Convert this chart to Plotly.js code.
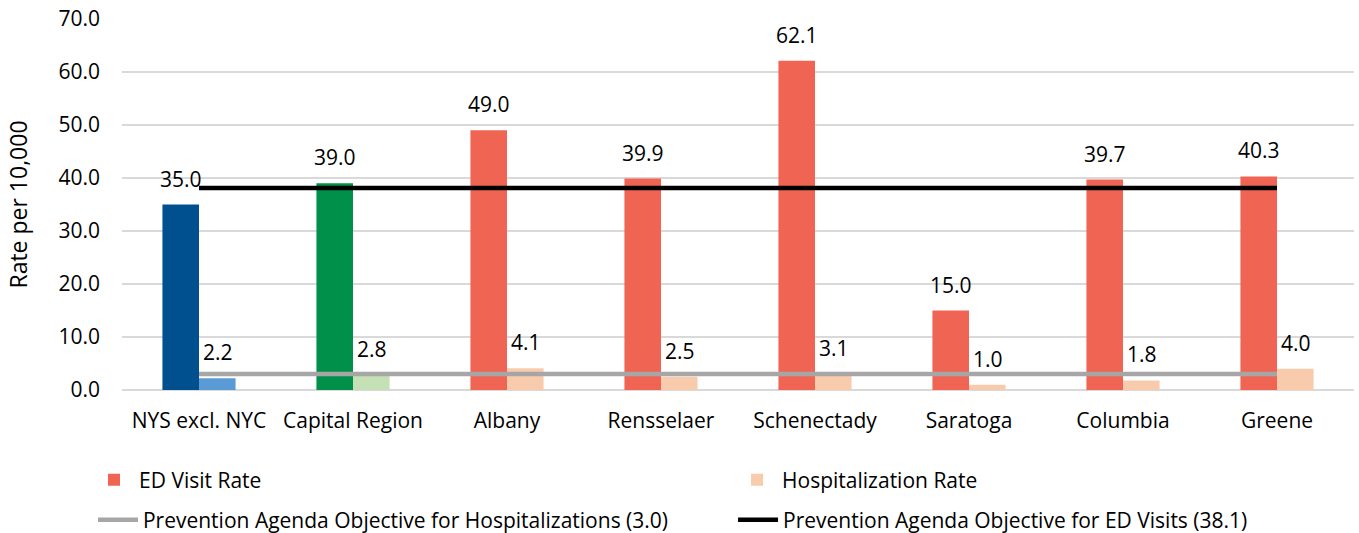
<!DOCTYPE html>
<html>
<head>
<meta charset="utf-8">
<script src="https://cdn.plot.ly/plotly-3.0.1.min.js"></script>
<style>html,body{margin:0;padding:0;background:#fff;}#chart{width:1359px;height:533px;}</style>
</head>
<body>
<div id="chart"></div>
<script>
// ---- data ----
const categories = ["NYS excl. NYC", "Capital Region", "Albany", "Rensselaer", "Schenectady", "Saratoga", "Columbia", "Greene"];
const edRate = [35.0, 39.0, 49.0, 39.9, 62.1, 15.0, 39.7, 40.3];
const hospRate = [2.2, 2.8, 4.1, 2.5, 3.1, 1.0, 1.8, 4.0];
const objHosp = 3.0;
const objED = 38.1;
const yTicks = [0, 10, 20, 30, 40, 50, 60, 70];

// ---- styles ----
const FONT = "Open Sans, Noto Sans, sans-serif";
const FS = 21;
const edColors = {nys: "#004f8f", cap: "#00904a", county: "#f06454"};
const hospColors = {nys: "#5b9bd5", cap: "#c5e0b4", county: "#f8cbad"};

function pick(arr, idx) { return idx.map(i => arr[i]); }
const idxNYS = [0], idxCap = [1], idxCounty = [2,3,4,5,6,7];

const traces = [];
function barTrace(vals, idx, color, name, group, show, legendId) {
  return {
    type: "bar", x: pick(categories, idx), y: pick(vals, idx),
    name: name, offsetgroup: group, marker: {color: color, line: {width: 0}},
    showlegend: show, legendgroup: group, legend: legendId, hoverinfo: "x+y"
  };
}
traces.push(barTrace(edRate, idxNYS, edColors.nys, "ED Visit Rate", "ed", false, "legend"));
traces.push(barTrace(edRate, idxCap, edColors.cap, "ED Visit Rate", "ed", false, "legend"));
traces.push(barTrace(edRate, idxCounty, edColors.county, "ED Visit Rate", "ed", true, "legend"));
traces.push(barTrace(hospRate, idxNYS, hospColors.nys, "Hospitalization Rate", "hosp", false, "legend2"));
traces.push(barTrace(hospRate, idxCap, hospColors.cap, "Hospitalization Rate", "hosp", false, "legend2"));
traces.push(barTrace(hospRate, idxCounty, hospColors.county, "Hospitalization Rate", "hosp", true, "legend2"));

traces.push({
  type: "scatter", mode: "lines", x: categories, y: categories.map(() => objHosp),
  name: "Prevention Agenda Objective for Hospitalizations (3.0)", legend: "legend3",
  line: {color: "#a6a6a6", width: 4.5}, cliponaxis: false
});
traces.push({
  type: "scatter", mode: "lines", x: categories, y: categories.map(() => objED),
  name: "Prevention Agenda Objective for ED Visits (38.1)", legend: "legend4",
  line: {color: "#000000", width: 4.5}, cliponaxis: false
});

const annotations = [];
categories.forEach((c, i) => {
  annotations.push({x: c, y: edRate[i], xref: "x", yref: "y", text: edRate[i].toFixed(1),
    showarrow: false, xshift: -18.5, yshift: 10, yanchor: "bottom",
    font: {family: FONT, size: FS, color: "#000"}});
  annotations.push({x: c, y: hospRate[i], xref: "x", yref: "y", text: hospRate[i].toFixed(1),
    showarrow: false, xshift: 18.5, yshift: 10, yanchor: "bottom",
    font: {family: FONT, size: FS, color: "#000"}});
});

function leg(x, y) {
  return {orientation: "h", xref: "container", yref: "container", x: x, y: y,
    xanchor: "left", yanchor: "middle", itemwidth: 40,
    font: {family: FONT, size: FS, color: "#000"}, bgcolor: "rgba(0,0,0,0)"};
}

const layout = {
  width: 1359, height: 533,
  margin: {l: 122, r: 5, t: 19, b: 143},
  paper_bgcolor: "#fff", plot_bgcolor: "#fff",
  font: {family: FONT, size: FS, color: "#000"},
  barmode: "group", bargap: 0.525, bargroupgap: 0,
  xaxis: {type: "category", showgrid: false, zeroline: false, showline: false, ticks: "",
    ticklabelstandoff: 16, tickfont: {family: FONT, size: FS, color: "#000"}},
  yaxis: {range: [0, 70], tickvals: yTicks, ticktext: yTicks.map(v => v.toFixed(1)),
    showgrid: true, gridcolor: "#d9d9d9", gridwidth: 2, zeroline: true, zerolinecolor: "#d9d9d9", zerolinewidth: 2,
    showline: false, ticks: "", ticklabelstandoff: 21,
    tickfont: {family: FONT, size: FS, color: "#000"},
    title: {text: "Rate per 10,000", font: {family: FONT, size: 23, color: "#000"}, standoff: 24}},
  legend: leg(0.0655, 0.0994),
  legend2: leg(0.5387, 0.0994),
  legend3: leg(0.0684, 0.0244),
  legend4: leg(0.5394, 0.0244),
  annotations: annotations,
  showlegend: true
};

Plotly.newPlot("chart", traces, layout, {displayModeBar: false, staticPlot: true});
</script>
</body>
</html>
